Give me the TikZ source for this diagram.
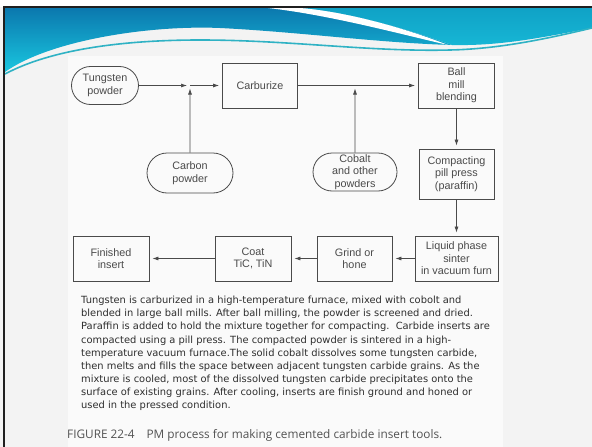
\documentclass[tikz,border=0pt]{standalone}
\usepackage{fontspec}
\setmainfont{Liberation Sans}
\newfontfamily\scanfont{DejaVu Sans}
\newfontfamily\capfont{Open Sans}
\begin{document}
\begin{tikzpicture}[x=1pt,y=-1pt]
	\usetikzlibrary{shapes,arrows.meta}
	\definecolor{ink}{HTML}{4A4A4A}
	\definecolor{slide}{HTML}{F3F3F3}
	\definecolor{deepblue}{HTML}{0B78AE}
	\definecolor{lightcyan}{HTML}{19C6DF}
	\definecolor{teal}{HTML}{10A2C6}
	\definecolor{skyline}{HTML}{2FB2C4}
	\tikzstyle{p} = [draw=ink, line width=0.8pt, shape=rounded rectangle, text=ink, align=center, inner sep=0pt, font=\fontsize{10.8}{12.5}\selectfont]
	\tikzstyle{b} = [draw=ink, line width=0.8pt, shape=rectangle, text=ink, align=center, inner sep=0pt, font=\fontsize{10.8}{12.5}\selectfont]
	\tikzstyle{a} = [draw=ink, line width=0.7pt, -{Latex[length=6pt,width=4pt]}, shorten >=3pt]
	\useasboundingbox (0,0) rectangle (592,447);
	\fill[slide] (0,0) rectangle (592,447);
	\fill[white] (0,0) rectangle (592,7);
	\fill[white!60!slide] (68,56) rectangle (503,447);
	\shade[top color=deepblue, bottom color=lightcyan] (5,8) -- (300,8) .. controls (350,12) and (410,30) .. (452,45)
		.. controls (380,43) and (300,32) .. (220,28) .. controls (150,25) and (50,40) .. (5,72) -- cycle;
	\shade[top color=teal, bottom color=lightcyan!80!deepblue] (300,8) -- (592,8) -- (592,28) .. controls (540,38) and (500,46) .. (452,45)
		.. controls (410,30) and (350,12) .. (300,8) -- cycle;
	\fill[white] (268,8) .. controls (330,15) and (400,34) .. (448,45) .. controls (410,30) and (350,12) .. (300,8) -- cycle;
	\draw[skyline, line width=1.6pt] (5,74) .. controls (50,50) and (120,40) .. (200,40) .. controls (290,40) and (370,52) .. (450,50)
		.. controls (500,49) and (550,38) .. (592,28);
	\draw[black!88, line width=2pt] (592,7) -- (4,7) -- (4,447);
	\node[p, minimum width=67pt, minimum height=38pt] (tungsten) at (105,85.5) {Tungsten\\powder};
	\node[b, minimum width=75pt, minimum height=45pt] (carburize) at (260,85.5) {Carburize};
	\node[b, minimum width=76pt, minimum height=45pt] (ball) at (456.5,85.5) {Ball\\mill\\blending};
	\node[p, minimum width=86pt, minimum height=40pt] (carbon) at (190,173) {Carbon\\powder};
	\node[p, minimum width=84pt, minimum height=38pt] (cobalt) at (355,172) {Cobalt\\and other\\powders};
	\node[b, minimum width=75pt, minimum height=50pt] (compacting) at (456.5,174) {Compacting\\pill press\\(paraffin)};
	\node[b, minimum width=83pt, minimum height=45pt] (liquid) at (456.5,258.5) {Liquid phase\\sinter\\in vacuum furn};
	\node[b, minimum width=75pt, minimum height=45pt] (grind) at (354.5,258.5) {Grind or\\hone};
	\node[b, minimum width=76pt, minimum height=45pt] (coat) at (253,258.5) {Coat\\TiC, TiN};
	\node[b, minimum width=76pt, minimum height=45pt] (finished) at (111,258.5) {Finished\\insert};
	\coordinate (carbonjoin) at (190,85.5);
	\coordinate (cobaltjoin) at (355,85.5);
	\draw[a] (tungsten) -- (carbonjoin);
	\draw[a] (carbonjoin) -- (carburize);
	\draw[a] (carbon) -- (carbonjoin);
	\draw[a] (carburize) -- (ball);
	\draw[a] (cobalt) -- (cobaltjoin);
	\draw[a] (ball) -- (compacting);
	\draw[a] (compacting) -- (liquid);
	\draw[a] (liquid) -- (grind);
	\draw[a] (grind) -- (coat);
	\draw[a] (coat) -- (finished);
	\node[anchor=north west, align=left, inner sep=0pt, text=black!82, font=\scanfont\fontsize{9.9}{13.1}\selectfont] (summary) at (81,296)
		{Tungsten is carburized in a high-temperature furnace, mixed with cobolt and\\
		blended in large ball mills. After ball milling, the powder is screened and dried.\\
		Paraffin is added to hold the mixture together for compacting.\ \ Carbide inserts are\\
		compacted using a pill press. The compacted powder is sintered in a high-\\
		temperature vacuum furnace.The solid cobalt dissolves some tungsten carbide,\\
		then melts and fills the space between adjacent tungsten carbide grains. As the\\
		mixture is cooled, most of the dissolved tungsten carbide precipitates onto the\\
		surface of existing grains. After cooling, inserts are finish ground and honed or\\
		used in the pressed condition.};
	\node[anchor=base west, inner sep=0pt, text=black!68, font=\capfont\fontsize{11.8}{14}\selectfont] (caption) at (67,438)
		{FIGURE 22-4\quad PM process for making cemented carbide insert tools.};
\end{tikzpicture}
\end{document}
